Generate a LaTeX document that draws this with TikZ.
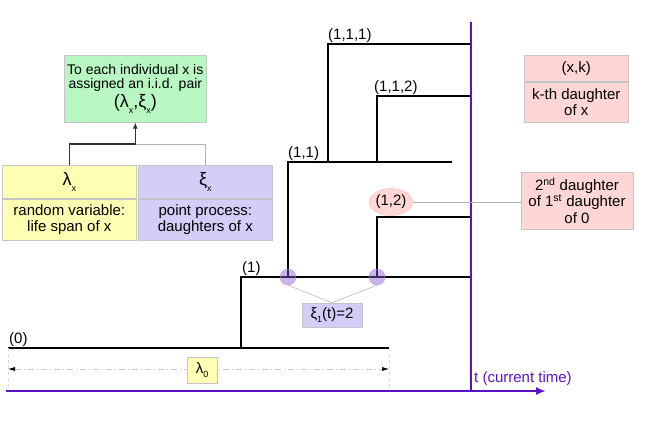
\documentclass[tikz,border=0pt]{standalone}
\usepackage{fontspec}
\setmainfont{Liberation Sans}
\usetikzlibrary{arrows.meta, positioning, shapes.geometric}
\definecolor{cyellow}{HTML}{FFFFB3}
\definecolor{clav}{HTML}{D2CEF7}
\definecolor{cgreen}{HTML}{B8F7C2}
\definecolor{cpink}{HTML}{FFD6D6}
\definecolor{cline}{HTML}{5A12C8}
\definecolor{cedge}{HTML}{C4C4C4}
\newcommand{\lsub}[1]{\raisebox{-0.6ex}{\fontsize{9}{9}\selectfont #1}}
\tikzset{
  every picture/.style={font=\fontsize{15}{16.5}\selectfont},
  box/.style={draw=cedge, fill=#1, align=center, inner sep=2pt, line width=0.6pt},
  box/.default=cyellow,
  bigtext/.style={font=\fontsize{18}{19}\selectfont},
  branch/.style={line width=2.4pt},
  tag/.style={inner sep=1pt, anchor=south west},
  link/.style={draw=black!30, line width=0.5pt},
  feed/.style={draw=black!80, line width=1.5pt, -{Latex[length=6pt, width=5pt]}},
  spot/.style={circle, minimum size=16pt, inner sep=0pt, draw=cline!40, fill=cline!70, fill opacity=0.45},
  timeline/.style={draw=cline, line width=2.4pt},
  ext/.style={draw=black!15, line width=0.5pt, dashed},
  dim/.style={draw=black!20, line width=0.6pt, dash pattern=on 6pt off 3pt on 1pt off 3pt,
    {Latex[length=7pt, width=4pt, black]}-{Latex[length=7pt, width=4pt, black]}},
}
\begin{document}
\begin{tikzpicture}[x=1pt, y=-1pt]
  \useasboundingbox (0,0) rectangle (664,421);
  % ---- time axis ----
  \coordinate (ax0) at (6,391);
  \coordinate (ax1) at (546,391);
  \coordinate (now) at (471,391);
  \coordinate (nowtop) at (471,22);
  % ---- genealogical tree ----
  \coordinate (o0) at (8,348);     \coordinate (o1) at (389,348);
  \coordinate (b1) at (241,348);   \coordinate (s1) at (241,277);   \coordinate (e1) at (471,277);
  \coordinate (b11) at (288,277);  \coordinate (s11) at (288,162);  \coordinate (e11) at (452,162);
  \coordinate (b12) at (377,277);  \coordinate (s12) at (377,217);  \coordinate (e12) at (471,217);
  \coordinate (b111) at (328,162); \coordinate (s111) at (328,44);  \coordinate (e111) at (471,44);
  \coordinate (b112) at (377,162); \coordinate (s112) at (377,96);  \coordinate (e112) at (471,96);
  \draw[branch] (o0) -- (o1);
  \draw[branch] (b1) |- (e1);
  \draw[branch] (b11) |- (e11);
  \draw[branch] (b12) |- (e12);
  \draw[branch] (b111) |- (e111);
  \draw[branch] (b112) |- (e112);
  \node[tag] (t0) at (o0) {(0)};
  \node[tag] (t1) at (s1) {(1)};
  \node[tag, xshift=-1pt] (t11) at (s11) {(1,1)};
  \node[tag, xshift=-1pt] (t111) at (s111) {(1,1,1)};
  \node[tag, xshift=-4pt] (t112) at (s112) {(1,1,2)};
  \draw[timeline, -{Latex[length=10pt, width=8pt]}] (ax0) -- (ax1);
  \draw[timeline] (now) -- (nowtop);
  \node[text=cline, anchor=south west, inner sep=1pt] (tnow) at ([xshift=2pt, yshift=4pt]now) {t (current time)};
  % ---- daughters of (1) ----
  \node[spot] (c11) at (b11) {};
  \node[spot] (c12) at (b12) {};
  \node[box=clav, minimum width=60pt, minimum height=24pt] (xi1) at (332,315) {ξ\lsub{1}(t)=2};
  \draw[link] (c11.south) -- (xi1.north);
  \draw[link] (c12.south) -- (xi1.north);
  % ---- life span of (0) ----
  \draw[ext] (o0) -- ++(0,42);
  \draw[ext] (o1) -- ++(0,42);
  \draw[dim] ([yshift=-21pt]o0) -- ([yshift=-21pt]o1);
  \node[box, minimum width=30pt, minimum height=26pt] (lam0) at (202,370) {λ\lsub{0}};
  % ---- (1,2) ----
  \node[ellipse, draw=red!25, fill=cpink, minimum width=37pt, minimum height=27pt, inner sep=0pt] (n12) at (391,202) {(1,2)};
  \node[box=cpink, minimum width=112pt, minimum height=57pt] (d12) at (577,200.5) {2\textsuperscript{nd} daughter\\of 1\textsuperscript{st} daughter\\of 0};
  \draw[link] (n12.east) -- (n12.east -| d12.west);
  % ---- legend (x,k) ----
  \node[box=cpink, minimum width=104pt, minimum height=26pt, anchor=north west] (xktop) at (524,55) {(x,k)};
  \node[box=cpink, minimum width=104pt, minimum height=40pt, below=0pt of xktop] (xkbot) {k-th daughter\\of x};
  % ---- the pair (lambda, xi) ----
  \node[box=cgreen, minimum width=142pt, minimum height=67pt, anchor=north west, inner sep=1pt,
        font=\fontsize{14}{14.5}\selectfont] (pair) at (64,55)
    {To each individual x is\\assigned an i.i.d. pair\\[2pt]{\fontsize{18}{18}\selectfont (λ\lsub{x},ξ\lsub{x})}};
  \node[box, minimum width=134pt, minimum height=33pt, anchor=north west, bigtext] (lamtop) at (2,165) {λ\lsub{x}};
  \node[box, minimum width=134pt, minimum height=41pt, below=0pt of lamtop] (lambot) {random variable:\\life span of x};
  \node[box=clav, minimum width=134pt, minimum height=33pt, anchor=north west, bigtext] (xitop) at (138,165) {ξ\lsub{x}};
  \node[box=clav, minimum width=134pt, minimum height=41pt, below=0pt of xitop] (xibot) {point process:\\daughters of x};
  \coordinate (mid) at (135,144);
  \draw[link] (xitop.north) |- (pair.south |- mid);
  \draw[feed] (lamtop.north) |- (pair.south |- mid) -- (pair.south);
\end{tikzpicture}
\end{document}
